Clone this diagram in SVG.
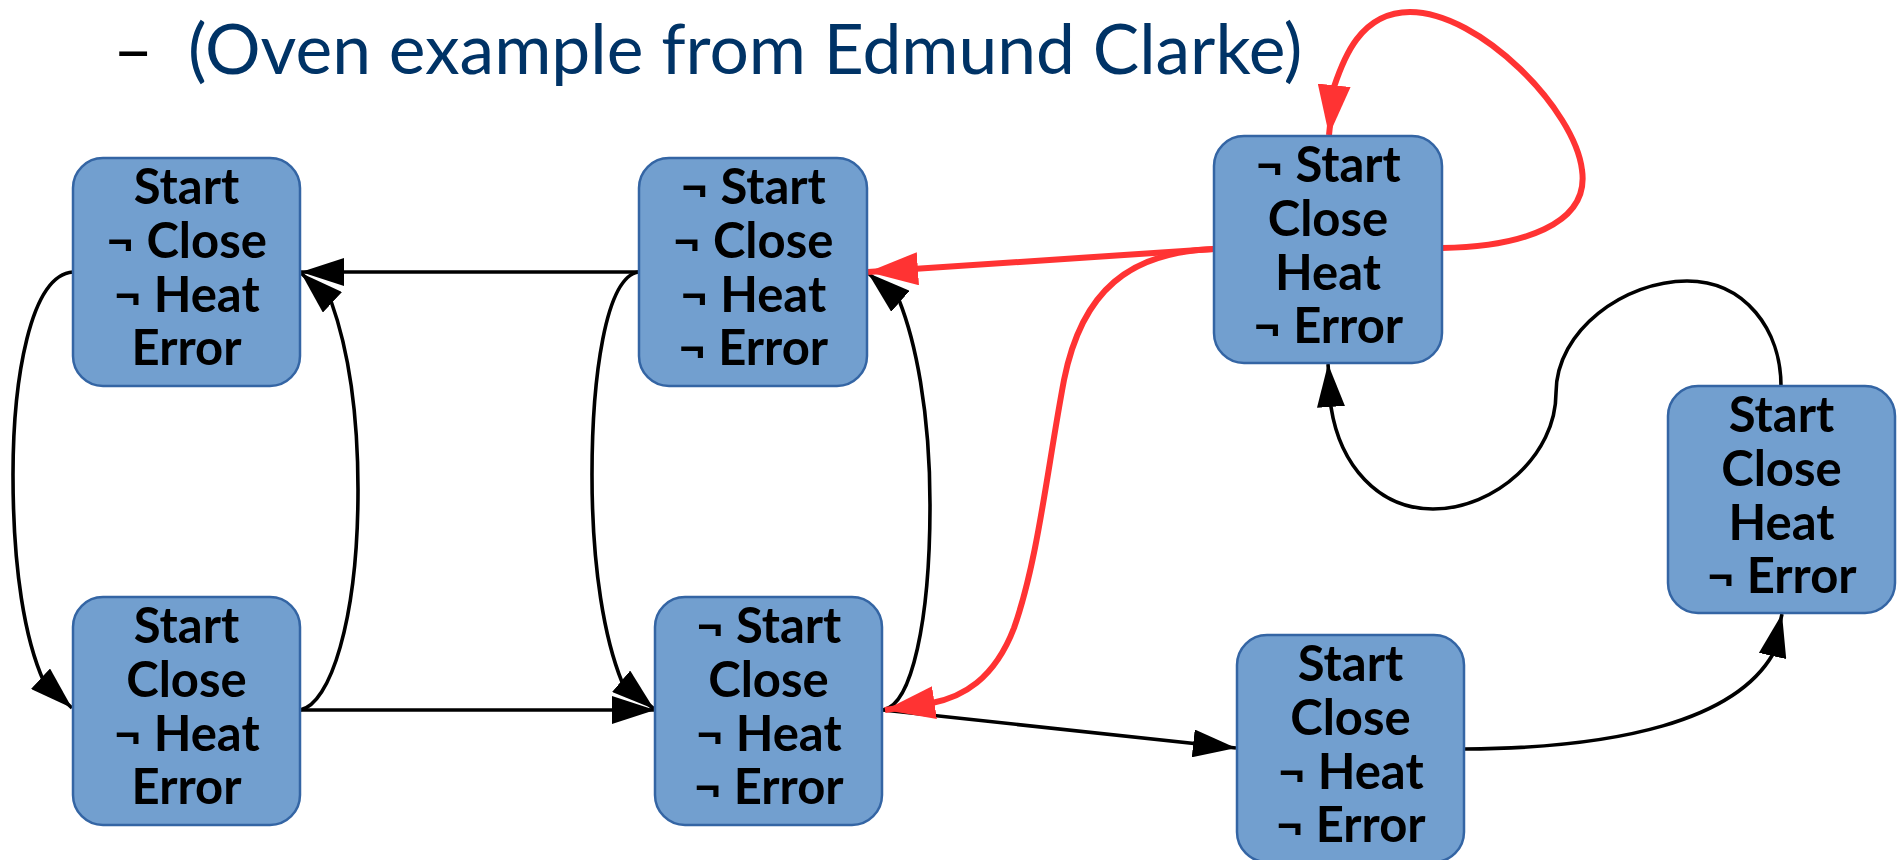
<svg xmlns="http://www.w3.org/2000/svg" width="1902" height="860" viewBox="0 0 1902 860">
  <style>
    .title { font-family: Lato, "Liberation Sans", sans-serif; font-size: 69.5px; fill: #003366; }
    .dash { font-family: Lato, "Liberation Sans", sans-serif; font-size: 69.5px; fill: #000000; }
    .box { fill: #729fcf; stroke: #3465a4; stroke-width: 2.5; }
    .lbl { font-family: Lato, "Liberation Sans", sans-serif; font-weight: bold; font-size: 49px; fill: #000000; text-anchor: middle; }
    .edge { fill: none; stroke: #000000; stroke-width: 3.6; }
    .hot { fill: none; stroke: #ff3333; stroke-width: 6; }
  </style>
  <defs>
    <marker id="arrow" markerUnits="userSpaceOnUse" markerWidth="43" markerHeight="28" viewBox="0 0 43 28" refX="43" refY="14" orient="auto">
      <path d="M0,0 L43,14 L0,28 Z" fill="#000000"/>
    </marker>
    <marker id="arrowRed" markerUnits="userSpaceOnUse" markerWidth="50" markerHeight="33" viewBox="0 0 50 33" refX="50" refY="16.5" orient="auto">
      <path d="M0,0 L50,16.5 L0,33 Z" fill="#ff3333"/>
    </marker>
  </defs>

  <rect width="1902" height="860" fill="#ffffff"/>

  <text class="dash" x="113" y="74">–</text>
  <text class="title" x="188" y="74">(Oven example from Edmund Clarke)</text>

  <g id="connectors">
    <!-- black transitions -->
    <path class="edge" d="M639,272 L301,272" marker-end="url(#arrow)"/>
    <path class="edge" d="M300,710 C330,705 358,620 358,490 C358,400 345,340 331,301 L301,273" marker-end="url(#arrow)"/>
    <path class="edge" d="M73,272 C30,275 13,380 13,475 C13,570 25,640 44,682 L72,708" marker-end="url(#arrow)"/>
    <path class="edge" d="M300,710 L655,710" marker-end="url(#arrow)"/>
    <path class="edge" d="M639,272 C605,276 592,380 592,475 C592,570 605,640 622,682 L654,709" marker-end="url(#arrow)"/>
    <path class="edge" d="M883,710 C912,705 930,620 930,505 C930,410 915,340 899,300 L868,273" marker-end="url(#arrow)"/>
    <path class="edge" d="M883,710 L1236,748" marker-end="url(#arrow)"/>
    <path class="edge" d="M1465,749 C1620,748 1735,720 1773,654 L1782,614" marker-end="url(#arrow)"/>
    <path class="edge" d="M1781,386 C1781,330 1745,281 1687,281 C1625,281 1556,330 1556,393 C1556,455 1495,509 1433,509 C1378,509 1340,465 1331,407 L1328,364" marker-end="url(#arrow)"/>
    <!-- red transitions -->
    <path class="hot" d="M1214,249 L868,272" marker-end="url(#arrowRed)"/>
    <path class="hot" d="M1214,249 C1130,252 1082,290 1064,380 C1047,470 1038,560 1014,628 C994,680 962,697 932,703 L885,710" marker-end="url(#arrowRed)"/>
    <path class="hot" d="M1442,248 C1520,247 1590,225 1582,170 C1575,110 1480,12 1410,12 C1360,12 1343,60 1334,87 L1329,135" marker-end="url(#arrowRed)"/>
  </g>

  <g id="s1">
    <rect class="box" x="73" y="158" width="227" height="228" rx="30"/>
    <text class="lbl" x="186.5" y="204">Start</text>
    <text class="lbl" x="186.5" y="258">¬ Close</text>
    <text class="lbl" x="186.5" y="312">¬ Heat</text>
    <text class="lbl" x="186.5" y="365">Error</text>
  </g>
  <g id="s2">
    <rect class="box" x="73" y="597" width="227" height="228" rx="30"/>
    <text class="lbl" x="186.5" y="643">Start</text>
    <text class="lbl" x="186.5" y="697">Close</text>
    <text class="lbl" x="186.5" y="751">¬ Heat</text>
    <text class="lbl" x="186.5" y="804">Error</text>
  </g>
  <g id="s3">
    <rect class="box" x="639" y="158" width="228" height="228" rx="30"/>
    <text class="lbl" x="753" y="204">¬ Start</text>
    <text class="lbl" x="753" y="258">¬ Close</text>
    <text class="lbl" x="753" y="312">¬ Heat</text>
    <text class="lbl" x="753" y="365">¬ Error</text>
  </g>
  <g id="s4">
    <rect class="box" x="655" y="597" width="227" height="228" rx="30"/>
    <text class="lbl" x="768.5" y="643">¬ Start</text>
    <text class="lbl" x="768.5" y="697">Close</text>
    <text class="lbl" x="768.5" y="751">¬ Heat</text>
    <text class="lbl" x="768.5" y="804">¬ Error</text>
  </g>
  <g id="s5">
    <rect class="box" x="1214" y="136" width="228" height="227" rx="30"/>
    <text class="lbl" x="1328" y="182">¬ Start</text>
    <text class="lbl" x="1328" y="236">Close</text>
    <text class="lbl" x="1328" y="290">Heat</text>
    <text class="lbl" x="1328" y="343">¬ Error</text>
  </g>
  <g id="s6">
    <rect class="box" x="1668" y="386" width="227" height="227" rx="30"/>
    <text class="lbl" x="1781.5" y="432">Start</text>
    <text class="lbl" x="1781.5" y="486">Close</text>
    <text class="lbl" x="1781.5" y="540">Heat</text>
    <text class="lbl" x="1781.5" y="593">¬ Error</text>
  </g>
  <g id="s7">
    <rect class="box" x="1237" y="635" width="227" height="227" rx="30"/>
    <text class="lbl" x="1350.5" y="681">Start</text>
    <text class="lbl" x="1350.5" y="735">Close</text>
    <text class="lbl" x="1350.5" y="789">¬ Heat</text>
    <text class="lbl" x="1350.5" y="842">¬ Error</text>
  </g>
</svg>
